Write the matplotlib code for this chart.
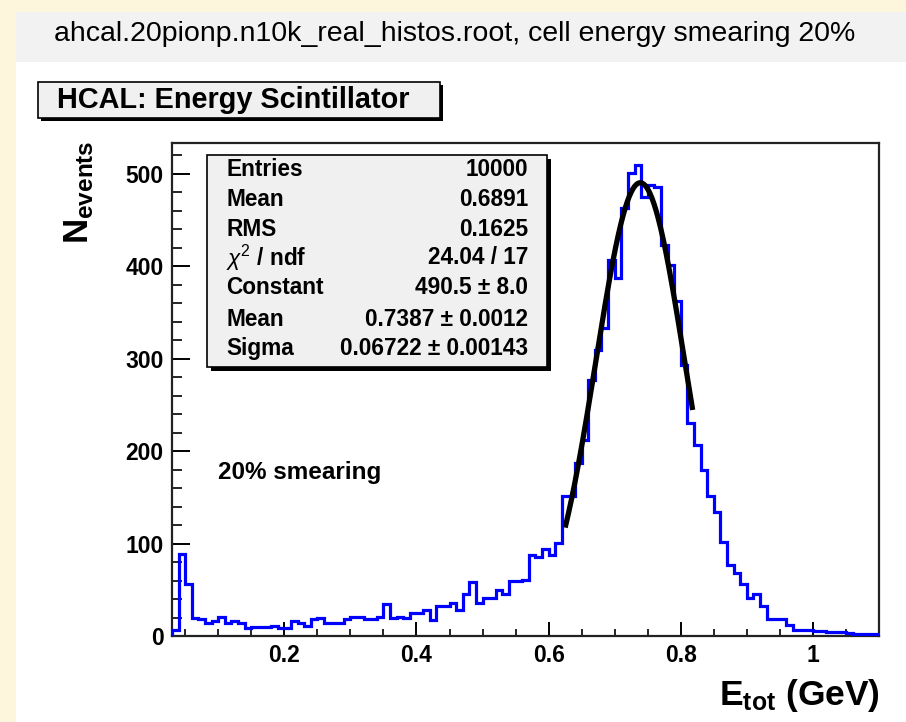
import numpy as np
import matplotlib
matplotlib.use("Agg")
import matplotlib.pyplot as plt
from matplotlib.patches import Rectangle
from matplotlib.ticker import MultipleLocator

plt.rcParams['font.family'] = ['Liberation Sans', 'DejaVu Sans']
plt.rcParams['mathtext.fontset'] = 'custom'
plt.rcParams['mathtext.rm'] = 'Liberation Sans'
plt.rcParams['mathtext.it'] = 'Liberation Sans:italic'
plt.rcParams['mathtext.bf'] = 'Liberation Sans:bold'

# ---- data ----
bin_lo = 0.03
bin_width = 0.01
counts = [7, 89, 56, 19, 18, 14, 16, 21, 14, 16,
          14, 9, 10, 10, 10, 11, 9, 9, 16, 14,
          11, 18, 20, 14, 14, 14, 18, 21, 21, 18,
          18, 21, 35, 19, 21, 20, 25, 25, 28, 17,
          32, 32, 36, 28, 45, 58, 36, 41, 41, 50,
          45, 60, 60, 61, 88, 85, 94, 88, 101, 151,
          151, 187, 212, 277, 310, 333, 407, 387, 463, 501,
          510, 475, 488, 486, 423, 402, 362, 293, 230, 207,
          180, 151, 134, 102, 77, 68, 56, 41, 45, 32,
          18, 18, 18, 12, 7, 7, 6, 5, 5, 4,
          4, 4, 3, 2, 2, 2, 2]
fit_const = 490.5
fit_mean = 0.7387
fit_sigma = 0.06722
fit_range = (0.625, 0.818)

stat_labels = ["Entries", "Mean", "RMS", r"$\chi^{2}$ / ndf", "Constant", "Mean", "Sigma"]
stat_values = ["10000", "0.6891", "0.1625", "24.04 / 17", "490.5 \u00b1 8.0",
               "0.7387 \u00b1 0.0012", "0.06722 \u00b1 0.00143"]
xtick_vals = [0.2, 0.4, 0.6, 0.8, 1.0]
xtick_labels = ["0.2", "0.4", "0.6", "0.8", "1"]
ytick_vals = [0, 100, 200, 300, 400, 500]

title = "ahcal.20pionp.n10k_real_histos.root, cell energy smearing 20%"
hist_title = "HCAL: Energy Scintillator"

# ---- figure ----
W, H = 906, 722
fig = plt.figure(figsize=(W / 100, H / 100), dpi=100)
fig.patch.set_facecolor('white')

def fx(px):
    return px / W

def fy(py):
    return 1 - py / H

# outer yellow border and title band
fig.patches.append(Rectangle((0, 0), fx(16), 1, transform=fig.transFigure,
                             facecolor='#fdf6dc', edgecolor='none', zorder=0))
fig.patches.append(Rectangle((0, fy(12)), 1, 12 / H, transform=fig.transFigure,
                             facecolor='#fdf6dc', edgecolor='none', zorder=0))
fig.patches.append(Rectangle((fx(16), fy(62)), 1, 50 / H, transform=fig.transFigure,
                             facecolor='#f2f2f2', edgecolor='none', zorder=0))
fig.text(fx(455), fy(34), title, ha='center', va='center', fontsize=20.5, color='black')

# histogram title box
fig.patches.append(Rectangle((fx(41), fy(121)), fx(402), 36 / H, transform=fig.transFigure,
                             facecolor='black', edgecolor='none', zorder=1))
fig.patches.append(Rectangle((fx(38), fy(118)), fx(402), 36 / H, transform=fig.transFigure,
                             facecolor='#f0f0f0', edgecolor='black', lw=1.2, zorder=2))
fig.text(fx(57), fy(100), hist_title, ha='left', va='center', fontsize=20.8,
         fontweight='bold', zorder=3)

# axes
left, right, top, bottom = 172, 879, 143, 636
ax = fig.add_axes([fx(left), fy(bottom), (right - left) / W, (bottom - top) / H])
edges = bin_lo + bin_width * np.arange(len(counts) + 1)
ax.stairs(counts, edges, color='#0000ff', lw=2.3, zorder=3)

xf = np.linspace(fit_range[0], fit_range[1], 200)
yf = fit_const * np.exp(-0.5 * ((xf - fit_mean) / fit_sigma) ** 2)
ax.plot(xf, yf, color='black', lw=3.8, zorder=4, solid_capstyle='butt')

ax.set_xlim(bin_lo, 1.1)
ax.set_ylim(0, 533.5)
ax.set_xticks(xtick_vals)
ax.set_xticklabels(xtick_labels)
ax.set_yticks(ytick_vals)
ax.xaxis.set_minor_locator(MultipleLocator(0.05))
ax.yaxis.set_minor_locator(MultipleLocator(20))
ax.tick_params(axis='x', which='major', direction='in', length=10, width=1.4, pad=6,
               labelsize=16.5, top=False)
ax.tick_params(axis='x', which='minor', direction='in', length=5, width=1.2, top=False)
ax.tick_params(axis='y', which='major', direction='in', length=13, width=1.4, pad=6,
               labelsize=16.5, right=False)
ax.tick_params(axis='y', which='minor', direction='in', length=7, width=1.2, right=False)
for lab in ax.get_xticklabels() + ax.get_yticklabels():
    lab.set_fontweight('bold')
for sp in ax.spines.values():
    sp.set_linewidth(1.6)
    sp.set_color('#222222')

# axis titles
fig.text(fx(79), fy(141), r"$\mathbf{N}_{\mathbf{events}}$", rotation=90, ha='center', va='top',
         fontsize=25)
fig.text(fx(880), fy(705), r"$\mathbf{E}_{\mathbf{tot}}$" + " (GeV)", ha='right', va='baseline',
         fontsize=25.5, fontweight='bold')

# annotation
fig.text(fx(218), fy(473), "20% smearing", ha='left', va='center', fontsize=17.5, fontweight='bold')

# stats box
bx0, bx1, by0, by1 = 207, 547, 155, 367
fig.patches.append(Rectangle((fx(bx0 + 4), fy(by1 + 4)), (bx1 - bx0) / W, (by1 - by0) / H,
                             transform=fig.transFigure, facecolor='black', edgecolor='none', zorder=5))
fig.patches.append(Rectangle((fx(bx0), fy(by1)), (bx1 - bx0) / W, (by1 - by0) / H,
                             transform=fig.transFigure, facecolor='#f0f0f0', edgecolor='black',
                             lw=1.2, zorder=6))
row_y = [169, 200, 229, 258, 288, 320, 349]
for lab, val, ry in zip(stat_labels, stat_values, row_y):
    fig.text(fx(226), fy(ry), lab, ha='left', va='center', fontsize=16.3, fontweight='bold', zorder=7)
    fig.text(fx(528), fy(ry), val, ha='right', va='center', fontsize=16.3, fontweight='bold', zorder=7)

fig.savefig("out.png", dpi=100)
